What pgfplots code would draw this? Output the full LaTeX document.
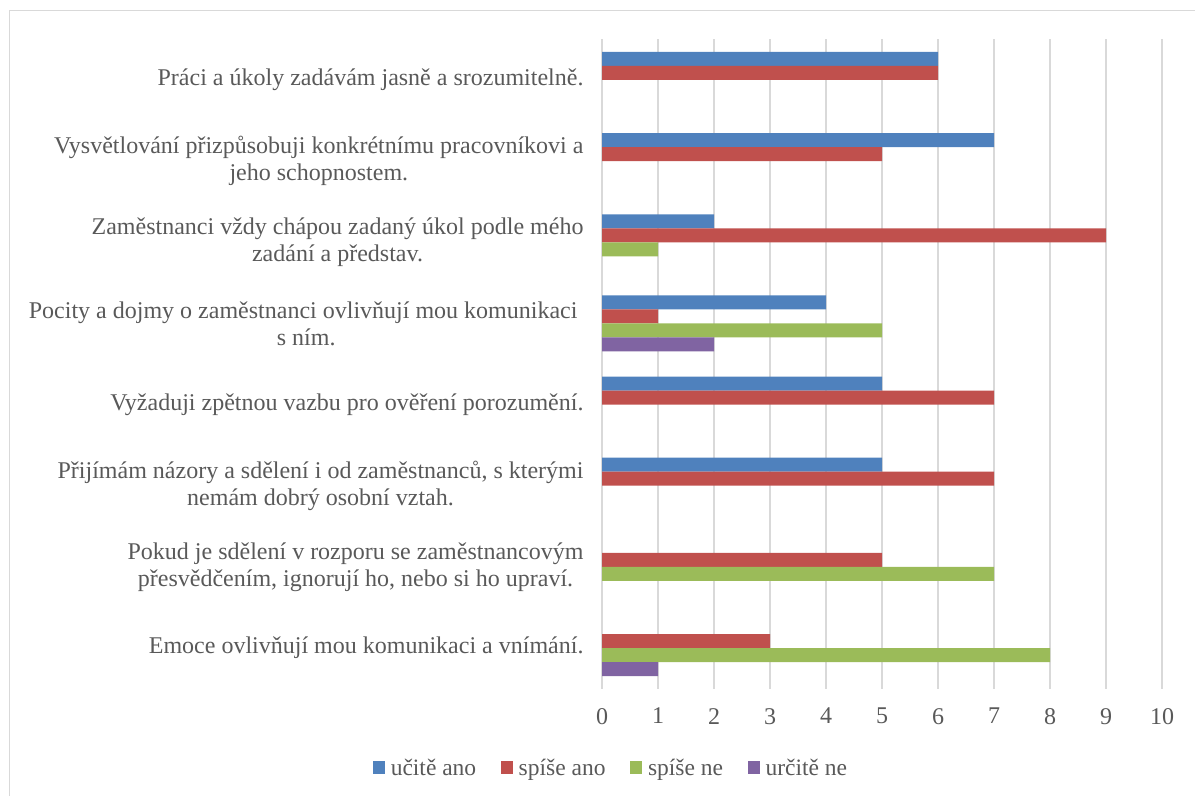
\documentclass[border=0pt]{standalone}
\usepackage{pgfplots}
\pgfplotsset{compat=1.18}
\usepackage{fontspec}
\setmainfont{Liberation Serif}
\definecolor{cblue}{HTML}{4F81BD}
\definecolor{cred}{HTML}{C0504D}
\definecolor{cgreen}{HTML}{9BBB59}
\definecolor{cpurple}{HTML}{8064A2}
\definecolor{txt}{HTML}{595959}
\definecolor{gridc}{HTML}{D9D9D9}
\newcommand{\ff}{\fontsize{24bp}{27bp}\selectfont}
\newcommand{\fl}{\fontsize{23.5bp}{27bp}\selectfont}
\pgfplotsset{sq legend/.style={legend image code/.code={\fill[##1] (0bp,-6.5bp) rectangle (12bp,6.5bp);}}}
\begin{document}
\begin{tikzpicture}
\useasboundingbox (0bp,0bp) rectangle (1195bp,796bp);
\draw[gridc, line width=1.5bp] (9.5bp,-20bp) rectangle (1220bp,785.5bp);
\begin{axis}[
  at={(602bp,107.4bp)}, anchor=south west,
  scale only axis, width=560bp, height=649.2bp,
  xmin=0, xmax=10, ymin=-0.5, ymax=7.5,
  xtick={0,1,...,10},
  ytick={0,...,7},
  yticklabels={
    {Emoce ovlivňují mou komunikaci a vnímání.},
    {Pokud je sdělení v rozporu se zaměstnancovým\\přesvědčením, ignorují ho, nebo si ho upraví.},
    {Přijímám názory a sdělení i od zaměstnanců, s kterými\\nemám dobrý osobní vztah.},
    {Vyžaduji zpětnou vazbu pro ověření porozumění.},
    {Pocity a dojmy o zaměstnanci ovlivňují mou komunikaci\hspace*{0.25em}\\s ním.},
    {Zaměstnanci vždy chápou zadaný úkol podle mého\\zadání a představ.},
    {Vysvětlování přizpůsobuji konkrétnímu pracovníkovi a\\jeho schopnostem.},
    {Práci a úkoly zadávám jasně a srozumitelně.}},
  yticklabel style={align=center, font=\ff, text=txt, xshift=-15bp},
  xticklabel style={font=\ff, text=txt, yshift=-16bp},
  /pgf/number format/assume math mode=true,
  axis line style={draw=none},
  major tick length=0pt,
  xmajorgrids, grid style={gridc, line width=1.5bp},
  xbar,
  legend columns=4,
  legend style={draw=none, fill=none, font=\fl, text=txt,
    at={(0.016,-0.122)}, anchor=center,
    nodes={inner xsep=2bp},
    /tikz/every odd column/.append style={column sep=4bp},
    /tikz/every even column/.append style={column sep=22.5bp}},
]
\addplot[xbar, bar width=0.1725, bar shift=0.259, fill=cblue, draw=none, sq legend]
  coordinates {(6,7) (7,6) (2,5) (4,4) (5,3) (5,2)};
\addplot[xbar, bar width=0.1725, bar shift=0.0863, fill=cred, draw=none, sq legend]
  coordinates {(6,7) (5,6) (9,5) (1,4) (7,3) (7,2) (5,1) (3,0)};
\addplot[xbar, bar width=0.1725, bar shift=-0.0863, fill=cgreen, draw=none, sq legend]
  coordinates {(1,5) (5,4) (7,1) (8,0)};
\addplot[xbar, bar width=0.1725, bar shift=-0.259, fill=cpurple, draw=none, sq legend]
  coordinates {(2,4) (1,0)};
\legend{učitě ano, spíše ano, spíše ne, určitě ne}
\end{axis}
\end{tikzpicture}
\end{document}
